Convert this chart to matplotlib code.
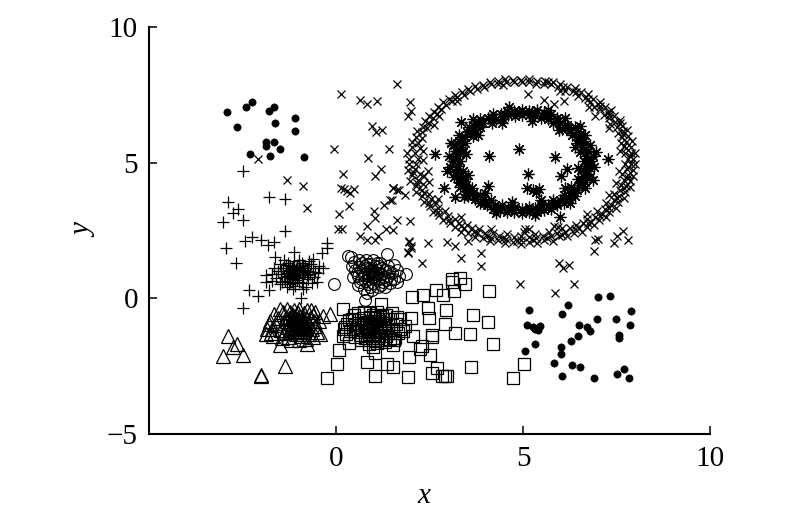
import matplotlib
matplotlib.use("Agg")
import numpy as np
import matplotlib.pyplot as plt

plt.rcParams['font.family'] = ['Liberation Serif', 'DejaVu Serif']

# values, (x, y)
dots = [(-2.92,6.87),(-2.41,7.05),(-2.25,7.24),(-2.66,6.31),(-1.79,6.92),(-1.66,7.05),(-1.62,6.46),(-1.10,6.65),
        (-1.10,6.18),(-1.86,5.76),(-1.86,5.63),(-1.66,5.76),(-1.49,5.49),(-2.31,5.31),(-1.76,5.26),(-0.86,5.21),
        (5.15,-0.42),(5.12,-0.97),(5.26,-1.06),(5.31,-1.12),(5.39,-1.18),(5.45,-1.02),(5.32,-1.67),(5.05,-1.94),
        (6.19,-0.23),(6.04,-0.56),(7.00,0.04),(7.32,0.09),(7.90,-0.47),(6.97,-0.75),(7.49,-0.75),(7.87,-0.97),
        (6.49,-0.97),(6.70,-1.06),(6.80,-1.22),(6.46,-1.39),(6.28,-1.57),(7.56,-1.35),(7.56,-1.45),(6.01,-1.81),
        (6.01,-2.04),(5.84,-2.37),(6.32,-2.45),(6.52,-2.54),(6.04,-2.88),(6.91,-2.92),(7.52,-2.78),(7.70,-2.59),(7.83,-2.92)]

plus = [(-2.50,4.68),(-1.78,3.75),(-1.36,3.66),(-2.88,3.56),(-2.63,3.31),(-2.76,3.16),(-2.48,2.87),(-3.01,2.81),
        (-1.36,2.47),(-2.25,2.26),(-2.43,2.10),(-2.01,2.14),(-1.81,1.95),(-1.66,2.08),(-2.94,1.87),(-0.23,2.05),
        (-0.23,1.85),(-0.37,1.67),(-2.67,1.32),(-2.32,0.29),(-2.09,0.08),(-1.78,0.29),(-2.50,-0.36),(-0.94,0.03),
        (-1.63,1.52),(-1.11,1.71),(-0.61,1.46),(-0.34,1.13),(-1.88,0.85),(-1.88,0.60),(-0.52,0.60),(-1.50,0.54),
        (-0.87,0.36),(-1.14,0.36),
        (-1.10,0.97),(-1.25,1.05),(-0.95,1.10),(-1.32,0.82),(-0.88,0.78),(-1.05,1.22),(-1.18,0.70),(-0.78,1.02),
        (-1.42,1.12),(-1.02,0.85),(-1.28,1.30),(-0.92,1.30),(-0.70,0.88),(-1.48,0.90),(-1.15,1.15),(-1.36,0.65),
        (-0.98,0.62),(-0.82,1.18),(-1.20,0.88),(-1.08,1.08),(-0.62,1.10),(-1.55,1.00),(-1.12,1.38),(-0.85,0.92),
        (-1.30,0.95),(-0.95,0.98),(-1.22,1.20),(-1.05,0.75),(-0.75,0.72),(-1.40,0.78),(-0.68,1.25),(-1.50,1.25),
        (-1.16,0.58),(-0.90,0.55),(-1.26,0.52),(-0.72,1.38),(-1.38,1.40),(-1.00,1.42),(-0.58,0.80),(-1.60,0.75),
        (-0.98,1.15),(-1.14,1.02),(-1.24,0.76),(-0.86,1.06),(-1.06,0.92),(-0.78,0.85),(-1.34,1.02),(-0.55,0.98),
        (-1.45,0.62),(-1.70,0.88),(-1.65,1.10),(-0.48,0.92),(-0.45,1.20),(-1.10,0.45),(-0.80,0.42),(-1.32,0.42),
        (-0.65,0.55),(-1.72,0.65),
        (-1.12,0.90),(-1.00,1.02),(-1.18,1.12),(-0.92,0.85),(-1.28,0.88),(-0.82,0.98),(-1.04,0.68),(-1.22,0.62),
        (-0.88,1.22),(-1.35,1.22),(-0.74,1.12),(-1.46,1.02)]

triangles = [(-2.88,-1.40),(-2.64,-1.67),(-2.75,-1.79),(-3.01,-2.13),(-2.48,-2.09),(-1.36,-2.49),(-2.01,-2.83),(-2.01,-2.87),
             (-0.36,-0.65),(-0.16,-0.56),(-1.50,-1.73),(-0.78,-1.67),(-1.76,-0.84),
             (-1.05,-0.93),(-1.20,-0.85),(-0.90,-0.80),(-1.30,-1.05),(-0.82,-1.10),(-1.10,-0.70),(-0.95,-1.20),(-1.25,-1.25),
             (-0.75,-0.90),(-1.40,-0.90),(-1.00,-1.05),(-1.15,-1.10),(-0.88,-0.98),(-1.18,-0.98),(-0.70,-0.72),(-1.35,-0.68),
             (-1.02,-0.55),(-1.22,-0.50),(-0.85,-0.55),(-0.65,-1.12),(-1.48,-1.15),(-1.08,-1.32),(-0.92,-1.40),(-1.28,-1.42),
             (-0.72,-1.32),(-1.55,-0.72),(-0.60,-0.85),(-1.60,-1.00),(-0.55,-1.02),(-1.42,-0.52),(-0.78,-0.42),(-0.98,-0.40),
             (-1.30,-0.40),(-1.12,-0.42),(-1.05,-0.78),(-0.95,-0.65),(-1.25,-0.72),(-0.80,-0.72),(-1.12,-1.20),(-0.85,-1.25),
             (-1.38,-1.28),(-0.62,-0.60),(-1.65,-0.58),(-1.70,-1.12),(-0.50,-1.25),(-1.75,-1.28),(-0.45,-0.82),(-1.80,-0.95),
             (-1.00,-1.55),(-1.20,-1.55),(-0.80,-1.50),(-1.45,-1.45),(-0.62,-1.42),(-1.50,-0.38),(-0.68,-0.42),(-1.02,-1.12),
             (-0.92,-0.90),(-1.10,-0.95),(-1.15,-0.62),(-0.88,-1.08),(-1.88,-1.30),(-1.85,-1.12),(-1.68,-1.38),(-0.42,-1.32),
             (-0.55,-0.50),
             (-1.08,-0.88),(-0.98,-0.98),(-1.16,-0.78),(-0.86,-0.88),(-1.22,-1.12),(-1.04,-1.25),(-0.92,-0.72),(-1.32,-0.82),
             (-0.78,-1.02),(-1.10,-1.05),(-1.00,-0.82),(-0.94,-1.10)]

circles = [(-0.05,0.52),(0.78,-0.07),(1.36,1.62),(0.33,1.55),(1.87,0.91),
           (0.95,0.97),(1.10,1.05),(0.80,1.10),(1.00,0.80),(0.85,0.82),(1.20,0.90),(0.72,0.95),(1.05,1.20),(0.90,1.25),
           (1.15,0.72),(0.78,0.65),(1.30,1.05),(0.62,1.15),(0.98,0.58),(1.25,0.62),(0.68,0.72),(1.40,0.82),(0.55,0.95),
           (1.00,1.40),(0.80,1.42),(0.48,1.35),(0.40,1.52),(1.18,1.30),(0.62,1.42),(1.38,1.18),(1.50,0.95),(1.55,0.70),
           (1.62,1.05),(1.68,0.82),(1.45,0.55),(0.92,0.40),(0.75,0.35),(1.12,0.42),(1.30,0.40),(0.58,0.50),(0.45,0.78),
           (0.52,1.05),(1.00,1.05),(0.88,0.90),(1.08,0.88),(0.92,1.12),(1.12,0.92),(0.75,0.85),(1.02,0.70),(0.85,0.70),
           (1.22,1.12),(0.68,1.05),(0.95,0.78),(1.10,1.30),(0.82,1.28),(1.28,0.80),(0.60,0.82),(1.00,0.88),(0.90,1.00),
           (1.05,0.98),(0.78,1.18),(1.15,1.18),(0.70,1.30),(0.65,0.60),(1.20,0.50),(0.86,0.52),(1.42,1.00),(0.42,1.20),
           (1.35,0.68),(1.48,0.72),(0.95,0.30),(0.82,0.18),(1.56,1.22),(1.62,0.62)]

squares = [(3.11,0.73),(3.32,0.76),(3.11,0.61),(3.45,0.54),(3.16,0.27),(4.10,0.26),(2.67,0.29),(2.87,0.11),(2.04,0.05),(2.32,0.11),
           (2.45,-0.36),(2.94,-0.44),(3.66,-0.63),(4.06,-0.86),(2.49,-0.73),(2.00,-0.73),(2.91,-0.96),(3.17,-1.28),(3.58,-1.33),
           (2.56,-1.34),(2.56,-1.42),(2.07,-1.40),(4.21,-1.70),(2.29,-1.77),(2.25,-1.85),(2.51,-2.10),(1.96,-2.15),(1.04,-2.00),
           (1.00,-1.79),(1.53,-1.73),(0.36,-1.65),(0.08,-1.92),(0.04,-2.43),(0.83,-2.33),(1.36,-2.43),(1.52,-2.53),(2.69,-2.55),
           (2.56,-2.75),(3.62,-2.53),(2.83,-2.88),(2.96,-2.88),(2.91,-2.88),(1.04,-2.85),(1.93,-2.91),(-0.23,-2.94),(4.72,-2.92),
           (5.03,-2.43),(0.18,-0.41),(1.20,-0.22),
           (0.95,-1.00),(1.10,-0.90),(0.80,-0.88),(1.00,-1.15),(0.85,-1.20),(1.20,-1.05),(0.70,-1.05),(1.05,-0.72),(0.90,-0.70),
           (1.25,-0.78),(0.62,-0.80),(1.30,-1.22),(0.60,-1.25),(0.98,-1.32),(0.78,-1.38),(1.15,-1.38),(1.40,-1.00),(0.50,-1.00),
           (0.92,-0.55),(0.75,-0.52),(1.10,-0.52),(1.22,-0.60),(0.60,-0.55),(1.45,-0.75),(0.42,-0.75),(1.52,-1.15),(0.38,-1.20),
           (1.35,-1.40),(0.52,-1.42),(1.05,-1.52),(0.88,-1.55),(1.20,-1.55),(0.68,-1.55),(1.60,-0.95),(0.30,-0.95),(1.65,-1.28),
           (0.28,-1.30),(1.50,-0.55),(1.45,-1.50),(1.58,-1.45),(1.00,-1.00),(0.88,-0.95),(1.08,-1.08),(0.75,-0.95),(1.15,-0.85),
           (1.02,-0.85),(0.92,-1.12),(0.82,-1.05),(1.18,-1.15),(0.68,-1.15),(1.28,-0.92),(0.58,-0.92),(0.95,-0.82),(1.08,-1.25),
           (0.88,-1.30),(0.72,-0.72),(1.18,-0.70),(1.35,-0.62),(0.48,-0.62),(0.98,-0.62),(1.30,-1.08),(0.45,-1.12),(1.38,-1.28),
           (0.65,-1.35),(0.95,-1.45),(1.12,-1.45),(0.78,-1.48),(1.72,-1.12),(1.80,-1.20),(0.22,-1.12),(0.25,-1.05),(0.35,-0.80),
           (1.70,-0.78),(1.85,-1.02),(1.62,-0.68),(1.55,-1.55),(1.30,-1.62),(0.88,-1.68),(1.10,-1.65),(0.20,-1.38)]

# scattered crosses between the groups
cross_sparse = [(-2.09,5.15),(-1.30,4.35),(-0.89,4.13),(-0.78,3.34),(0.14,7.54),(0.63,7.31),(0.84,7.18),(1.10,7.26),(1.62,7.91),
                (0.97,6.35),(1.08,6.12),(1.24,6.20),(-0.05,5.52),(1.43,5.52),(0.86,5.19),(1.21,4.77),(0.18,4.58),(1.04,4.50),
                (0.14,4.08),(0.21,4.04),(0.29,3.94),(0.37,3.90),(0.49,4.03),(1.52,4.08),(1.64,3.98),(0.36,3.39),(0.08,3.11),
                (1.01,3.21),(1.04,2.97),(1.28,3.43),(1.45,3.61),(0.05,2.54),(0.17,2.54),(0.84,2.65),(1.34,2.54),(1.52,2.51),
                (1.62,2.88),(0.63,2.29),(0.84,2.16),(1.04,2.16),(1.11,2.29),(1.96,2.08),(2.00,1.92),(1.93,1.71),(2.47,2.04),
                (2.96,2.08),(3.18,1.92),(3.54,2.10),(2.31,1.32),(3.34,1.50),(3.87,1.67),(3.87,1.18),(1.97,7.22),(2.00,6.90),
                (1.93,6.72),(2.76,6.72),(5.13,7.54),(5.57,7.32),(5.82,7.18),(6.10,7.27),(6.92,6.71),(2.45,4.68),(2.32,5.10),
                (2.49,4.29),(1.53,4.07),(1.69,3.99),(1.84,3.82),(1.49,3.61),(1.98,2.84),(1.95,2.13),
                (2.00,1.85),(1.93,1.68),(5.05,2.57),(5.16,2.57),(5.83,2.65),(7.49,4.26),(6.93,2.16),(7.00,2.20),(6.90,1.73),
                (7.68,2.47),(7.51,2.29),(7.44,2.05),(7.82,2.14),(5.96,1.32),(6.08,1.12),(6.23,1.22),(4.93,0.54),(6.37,0.54),(5.86,0.20)]

cross_ring = [(4.95,8.05),(4.97,7.97),(5.16,8.07),(5.15,7.97),(5.37,8.02),(5.35,7.90),(5.58,8.00),(5.55,7.89),(5.76,7.89),(5.79,7.98),
              (5.94,7.78),(5.98,7.89),(6.11,7.65),(6.17,7.79),(6.33,7.65),(6.38,7.74),(6.46,7.47),(6.54,7.59),(6.66,7.40),(6.74,7.52),
              (6.78,7.23),(6.88,7.35),(6.90,7.06),(7.00,7.17),(7.07,7.24),(7.07,6.96),(7.18,7.06),(7.16,6.77),(7.27,6.87),(7.35,6.93),
              (7.31,6.64),(7.44,6.73),(7.33,6.43),(7.46,6.50),(7.59,6.58),(7.51,6.30),(7.65,6.36),(7.55,6.10),(7.68,6.16),(7.78,6.19),
              (7.66,5.93),(7.80,5.98),(7.62,5.72),(7.76,5.75),(7.91,5.79),(7.76,5.54),(7.90,5.57),(7.74,5.34),(7.89,5.36),(8.00,5.37),
              (7.80,5.15),(7.95,5.15),(7.73,4.95),(7.90,4.95),(8.00,4.94),(7.79,4.75),(7.93,4.74),(7.66,4.57),(7.81,4.55),(7.95,4.52),
              (7.71,4.36),(7.86,4.32),(7.61,4.18),(7.76,4.14),(7.85,4.11),(7.59,3.98),(7.73,3.93),(7.42,3.84),(7.56,3.78),(7.69,3.71),
              (7.42,3.63),(7.55,3.55),(7.23,3.51),(7.35,3.43),(7.48,3.34),(7.20,3.29),(7.31,3.20),(6.99,3.21),(7.10,3.11),(7.22,3.01),
              (6.93,3.00),(7.04,2.89),(6.72,2.94),(6.81,2.83),(6.91,2.71),(6.60,2.78),(6.71,2.62),(6.41,2.72),(6.49,2.59),(6.57,2.46),
              (6.26,2.58),(6.36,2.40),(6.05,2.58),(6.11,2.45),(6.18,2.29),(5.91,2.42),(5.96,2.28),(5.69,2.46),(5.74,2.31),(5.79,2.12),
              (5.53,2.31),(5.56,2.16),(5.33,2.38),(5.35,2.23),(5.37,2.03),(5.15,2.26),(5.16,2.08),(4.95,2.30),(4.95,2.15),(4.95,2.00),
              (4.75,2.26),(4.74,2.06),(4.57,2.38),(4.55,2.18),(4.53,2.03),(4.37,2.31),(4.33,2.14),(4.19,2.41),(4.14,2.24),(4.11,2.12),
              (3.99,2.42),(3.92,2.23),(3.83,2.54),(3.77,2.40),(3.71,2.26),(3.64,2.58),(3.54,2.40),(3.49,2.72),(3.41,2.59),(3.33,2.46),
              (3.30,2.78),(3.19,2.62),(3.18,2.94),(3.05,2.79),(3.00,3.04),(2.87,2.89),(2.91,3.21),(2.76,3.08),(2.74,3.33),(2.59,3.20),
              (2.67,3.51),(2.50,3.40),(2.53,3.65),(2.35,3.55),(2.48,3.84),(2.30,3.76),(2.31,3.98),(2.15,3.92),(2.33,4.20),(2.14,4.14),
              (2.18,4.36),(1.99,4.31),(2.24,4.57),(2.04,4.54),(2.12,4.75),(1.92,4.73),(2.15,4.95),(1.95,4.95),(2.20,5.15),(1.95,5.15),
              (2.12,5.35),(1.89,5.37),(2.24,5.53),(2.04,5.56),(2.18,5.74),(2.02,5.78),(2.29,5.92),(2.14,5.96),(2.31,6.12),(2.17,6.17),
              (2.43,6.28),(2.33,6.33),(2.48,6.48),(2.37,6.54),(2.59,6.64),(2.49,6.71),(2.70,6.80),(2.63,6.87),(2.81,6.98),(2.72,7.06),
              (2.94,7.14),(2.85,7.22),(3.10,7.26),(3.02,7.35),(3.23,7.41),(3.17,7.49),(3.41,7.51),(3.36,7.59),(3.58,7.63),(3.53,7.72),
              (3.77,7.70),(3.72,7.81),(3.95,7.79),(3.92,7.87),(4.14,7.89),(4.11,7.98),(4.34,7.91),(4.32,8.00),(4.54,7.97),(4.53,8.07),
              (4.75,7.96),(4.74,8.06),
              (7.60,5.42),(7.29,6.29),(6.77,7.07),(5.99,7.63),(4.46,7.86),(3.23,7.26),(2.61,6.40),(2.33,5.42),(2.36,4.50),(2.73,3.66),
              (3.34,2.99),(4.14,2.56),(5.04,2.43),(5.93,2.62),(6.70,3.10),(7.29,3.81),(7.57,4.68),
              (7.86,5.25),(7.69,5.63),(7.68,6.04),(7.60,6.46),(7.30,6.75),(7.05,7.08),(6.75,7.35),(6.43,7.60),(6.06,7.79),(5.68,7.96),
              (7.82,4.85),(7.81,4.44),(7.69,4.05),(7.51,3.69),(7.31,3.33),(7.05,3.02),(6.74,2.76),(6.40,2.54),(6.04,2.34),(5.65,2.24),
              (5.26,2.15),(4.85,2.10),(4.46,2.24),(4.05,2.29),(3.68,2.44),(3.33,2.65),(3.01,2.89),(2.73,3.19),(2.49,3.51),(2.35,3.89),
              (2.16,4.25),(2.06,4.64)]

stars = [(6.62,5.05),(6.82,5.05),(6.68,5.23),(6.88,5.25),(6.53,5.38),(6.73,5.42),(6.59,5.58),(6.78,5.64),(6.45,5.71),(6.63,5.79),
         (6.49,5.93),(6.66,6.03),(6.30,6.02),(6.47,6.14),(6.25,6.20),(6.38,6.32),(6.04,6.24),(6.17,6.39),(6.00,6.47),(6.12,6.63),
         (5.80,6.48),(5.90,6.65),(5.67,6.62),(5.74,6.79),(5.49,6.65),(5.55,6.84),(5.33,6.76),(5.37,6.93),(5.15,6.74),(5.17,6.92),
         (4.97,6.77),(4.97,6.95),(4.79,6.72),(4.77,6.92),(4.61,6.76),(4.57,6.91),(4.46,6.62),(4.40,6.81),(4.27,6.62),(4.19,6.80),
         (4.16,6.45),(4.06,6.63),(3.94,6.47),(3.84,6.60),(3.85,6.30),(3.71,6.45),(3.69,6.20),(3.56,6.32),(3.66,6.00),(3.50,6.12),
         (3.45,5.93),(3.28,6.03),(3.46,5.72),(3.28,5.80),(3.33,5.58),(3.14,5.64),(3.40,5.38),(3.21,5.42),(3.23,5.23),(3.03,5.25),
         (3.32,5.05),(3.12,5.05),(3.26,4.87),(3.06,4.85),(3.39,4.71),(3.19,4.67),(3.31,4.51),(3.16,4.46),(3.46,4.38),(3.28,4.30),
         (3.48,4.19),(3.31,4.09),(3.64,4.08),(3.47,3.96),(3.67,3.88),(3.54,3.77),(3.85,3.80),(3.71,3.65),(3.96,3.66),(3.85,3.51),
         (4.15,3.62),(4.05,3.45),(4.26,3.45),(4.19,3.30),(4.44,3.43),(4.39,3.26),(4.61,3.34),(4.57,3.17),(4.79,3.36),(4.77,3.18),
         (4.97,3.30),(4.97,3.15),(5.15,3.36),(5.17,3.18),(5.33,3.34),(5.37,3.17),(5.49,3.45),(5.55,3.26),(5.68,3.45),(5.75,3.30),
         (5.80,3.62),(5.90,3.45),(6.00,3.63),(6.10,3.50),(6.09,3.80),(6.23,3.65),(6.25,3.90),(6.38,3.78),(6.28,4.10),(6.44,3.98),
         (6.49,4.17),(6.66,4.08),(6.48,4.38),(6.66,4.30),(6.61,4.52),(6.78,4.46),(6.54,4.72),(6.73,4.68),(6.71,4.87),(6.91,4.85),
         (6.75,5.14),(6.69,5.51),(6.50,5.83),(6.52,6.06),(6.21,6.29),(5.94,6.54),(5.61,6.73),(5.25,6.85),(4.88,6.85),(4.50,6.81),
         (4.18,6.61),(3.84,6.45),(3.59,6.17),(3.37,5.87),(3.28,5.50),(3.17,5.14),(3.24,4.78),(3.29,4.40),(3.48,4.08),(3.68,3.76),
         (3.98,3.52),(4.32,3.35),(4.69,3.25),(5.07,3.23),(5.44,3.29),(5.79,3.45),(6.09,3.67),(6.37,3.92),(6.56,4.24),(6.71,4.58),
         (6.75,4.96),
         (6.40,5.57),(5.95,6.21),(5.23,6.55),(4.45,6.48),(3.81,6.03),(3.47,5.31),(3.54,4.53),(3.99,3.89),(4.71,3.55),(5.49,3.62),
         (6.13,4.07),(6.47,4.79),
         (6.96,5.40),(6.52,6.35),(5.66,6.95),(4.62,7.04),(3.67,6.60),(3.07,5.74),(2.98,4.70),(3.42,3.75),(4.28,3.15),(5.32,3.06),
         (6.27,3.50),(6.87,4.36),
         # single ones off the ring
         (2.90,4.08),(3.18,3.73),(4.07,4.13),(4.09,5.23),(3.34,6.50),(2.65,5.33),(4.88,5.52),(5.86,5.21),(7.28,5.15),(5.14,4.60),
         (6.17,4.78),(6.02,4.50),(5.10,4.08),(5.28,3.98),(5.43,4.04),(5.35,3.92),(5.99,3.00)]

x_ticks = [0, 5, 10]
y_ticks = [-5, 0, 5, 10]
y_tick_labels = ['\u22125', '0', '5', '10']


def draw(ax, pts, marker, size, lw=0.8, filled=False):
    a = np.array(pts)
    ax.plot(a[:, 0], a[:, 1], linestyle='none', marker=marker, markersize=size, markeredgewidth=lw,
            markeredgecolor='black', markerfacecolor='black' if filled else 'none', clip_on=False)


fig = plt.figure(figsize=(8, 5.19), dpi=100)
ax = fig.add_axes([149 / 800, 1 - 434 / 519, (710 - 149) / 800, (434 - 27) / 519])

draw(ax, cross_sparse, 'x', 5.5, 0.9)
draw(ax, cross_ring, 'x', 5.5, 0.9)
draw(ax, stars, (8, 2, 0), 8.5, 0.9)
draw(ax, plus, '+', 8.5, 0.9)
draw(ax, triangles, '^', 9.5, 0.9)
draw(ax, circles, 'o', 8.5, 0.8)
draw(ax, squares, 's', 8, 0.9)
draw(ax, dots, 'o', 5.2, 0.5, filled=True)

ax.set_xlim(-5, 10)
ax.set_ylim(-5, 10)
ax.set_xticks(x_ticks)
ax.set_yticks(y_ticks)
ax.set_yticklabels(y_tick_labels)
ax.tick_params(direction='in', length=5.5, width=1.1, labelsize=21)
ax.tick_params(axis='x', pad=9)
ax.tick_params(axis='y', pad=8)
ax.spines['top'].set_visible(False)
ax.spines['right'].set_visible(False)
ax.spines['left'].set_linewidth(1.5)
ax.spines['bottom'].set_linewidth(1.5)
ax.set_xlabel('x', style='italic', fontsize=21)
ax.set_ylabel('y', style='italic', fontsize=21)
ax.xaxis.set_label_coords((424 - 149) / 561, -49 / 407, transform=ax.transAxes)
ax.yaxis.set_label_coords(-52 / 561, (434 - 231) / 407, transform=ax.transAxes)

fig.savefig('out.png', dpi=100)
